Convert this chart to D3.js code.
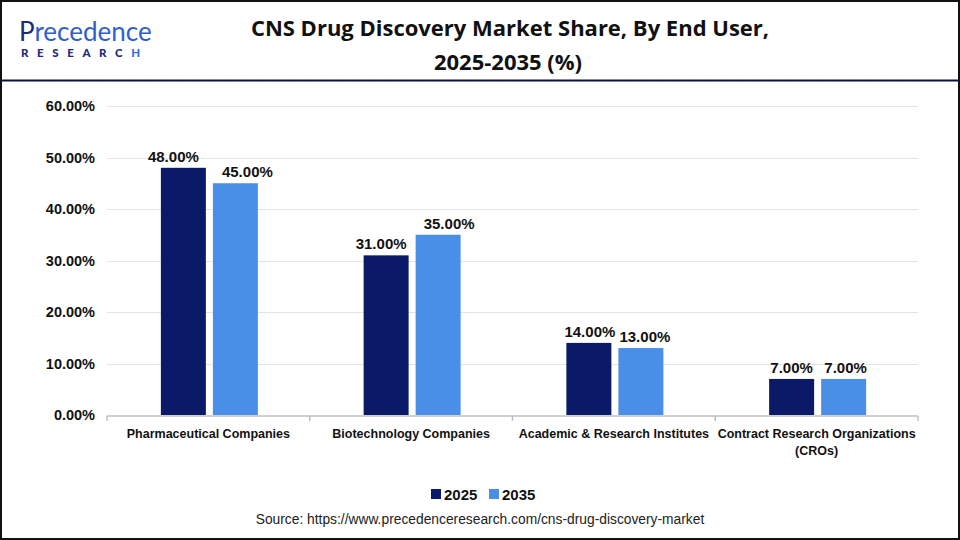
<!DOCTYPE html>
<html>
<head>
<meta charset="utf-8">
<script src="https://cdn.jsdelivr.net/npm/d3@7"></script>
<style>
    body { margin: 0; background: #fff; }
    svg { display: block; font-family: "Liberation Sans", Arial, sans-serif; }
</style>
</head>
<body>
<div id="chart"></div>
<script>
// Chart data
const categories = ["Pharmaceutical Companies", "Biotechnology Companies", "Academic & Research Institutes", "Contract Research Organizations (CROs)"];
const years = ["2025", "2035"];
const values2025 = [48, 31, 14, 7];
const values2035 = [45, 35, 13, 7];
const yTicks = [0, 10, 20, 30, 40, 50, 60];
const colors = ["#0b1a68", "#4a8fe7"];

const width = 960, height = 540;
const margin = { top: 106, right: 42, bottom: 125, left: 107 };

// small horizontal nudges of the value labels, as in the original layout
const labelNudge = [[-10, 12], [-5, 11], [1, 4], [0, 2]];

const svg = d3.select("#chart").append("svg")
    .attr("width", width)
    .attr("height", height);

// Frame and header line
svg.append("rect")
    .attr("x", 1).attr("y", 1)
    .attr("width", width - 2).attr("height", height - 2)
    .attr("fill", "none").attr("stroke", "#111").attr("stroke-width", 2);
svg.append("line")
    .attr("x1", 1).attr("x2", width - 1)
    .attr("y1", 80.5).attr("y2", 80.5)
    .attr("stroke", "#0b1240").attr("stroke-width", 2);

// Logo (text approximation)
const logo = svg.append("g");
logo.append("text")
    .attr("x", 19).attr("y", 41)
    .attr("font-family", "Lato, sans-serif")
    .attr("font-size", 26)
    .attr("fill", "#1b2a7a")
    .text("P")
    .append("tspan").attr("fill", "#2f5fcf").text("recedence");
logo.append("text")
    .attr("x", 21).attr("y", 57)
    .attr("font-family", "Lato, sans-serif")
    .attr("font-size", 11.5).attr("font-weight", "900")
    .attr("letter-spacing", 8.6)
    .attr("fill", "#1b2a7a")
    .text("RESEARC")
    .append("tspan").attr("fill", "#3a6fd8").text("H");

// Title
const title = svg.append("text")
    .attr("text-anchor", "middle")
    .attr("font-family", "'Open Sans', sans-serif")
    .attr("font-weight", "bold").attr("font-size", 22)
    .attr("fill", "#111");
title.append("tspan").attr("x", 510).attr("y", 36).text("CNS Drug Discovery Market Share, By End User,");
title.append("tspan").attr("x", 508).attr("y", 70).text("2025-2035 (%)");

// Scales
const x0 = d3.scaleBand()
    .domain(categories)
    .range([margin.left, width - margin.right])
    .paddingInner(0).paddingOuter(0);

const x1 = d3.scaleBand()
    .domain(years)
    .range([0, 97])
    .paddingInner(0.135);

const y = d3.scaleLinear()
    .domain([0, 60])
    .range([height - margin.bottom, margin.top]);

// Gridlines
svg.append("g")
    .selectAll("line")
    .data(yTicks.slice(1))
    .join("line")
    .attr("x1", margin.left).attr("x2", width - margin.right)
    .attr("y1", d => Math.round(y(d)) + 0.5).attr("y2", d => Math.round(y(d)) + 0.5)
    .attr("stroke", "#e4e4e4");

// Y axis labels
svg.append("g")
    .selectAll("text")
    .data(yTicks)
    .join("text")
    .attr("x", 95)
    .attr("y", d => y(d) + 5)
    .attr("text-anchor", "end")
    .attr("font-weight", "bold").attr("font-size", 14.5)
    .attr("fill", "#111")
    .text(d => d.toFixed(2) + "%");

// Bars
const groups = svg.append("g")
    .selectAll("g")
    .data(categories.map((c, i) => ({ cat: c, i, vals: [values2025[i], values2035[i]] })))
    .join("g")
    .attr("transform", d => `translate(${x0(d.cat) + (x0.bandwidth() - 97) / 2 + 1},0)`);

groups.selectAll("rect")
    .data(d => d.vals.map((v, j) => ({ year: years[j], v, j, i: d.i })))
    .join("rect")
    .attr("x", d => x1(d.year))
    .attr("y", d => y(d.v))
    .attr("width", x1.bandwidth())
    .attr("height", d => y(0) - y(d.v))
    .attr("fill", d => colors[d.j]);

groups.selectAll("text")
    .data(d => d.vals.map((v, j) => ({ year: years[j], v, j, i: d.i })))
    .join("text")
    .attr("x", d => x1(d.year) + x1.bandwidth() / 2 + labelNudge[d.i][d.j])
    .attr("y", d => y(d.v) - 6)
    .attr("text-anchor", "middle")
    .attr("font-weight", "bold").attr("font-size", 15)
    .attr("fill", "#111")
    .text(d => d.v.toFixed(2) + "%");

// X axis
const xAxis = svg.append("g");
xAxis.append("line")
    .attr("x1", margin.left).attr("x2", width - margin.right)
    .attr("y1", y(0) + 1).attr("y2", y(0) + 1)
    .attr("stroke", "#bfbfbf").attr("stroke-width", 1.5);
xAxis.selectAll("line.tick")
    .data(categories.concat([null]))
    .join("line")
    .attr("class", "tick")
    .attr("x1", (d, i) => margin.left + i * x0.bandwidth())
    .attr("x2", (d, i) => margin.left + i * x0.bandwidth())
    .attr("y1", y(0) + 1).attr("y2", y(0) + 6)
    .attr("stroke", "#bfbfbf").attr("stroke-width", 1.5);

const catLabels = [["Pharmaceutical Companies"], ["Biotechnology Companies"], ["Academic & Research Institutes"], ["Contract Research Organizations", "(CROs)"]];
xAxis.selectAll("text")
    .data(categories)
    .join("text")
    .attr("text-anchor", "middle")
    .attr("font-weight", "bold").attr("font-size", 12.5)
    .attr("fill", "#111")
    .each(function (d, i) {
        d3.select(this).selectAll("tspan")
            .data(catLabels[i])
            .join("tspan")
            .attr("x", x0(d) + x0.bandwidth() / 2)
            .attr("y", (t, k) => 438 + k * 17)
            .text(t => t);
    });

// Legend
const legend = svg.append("g").attr("transform", "translate(431,494)");
years.forEach((yr, i) => {
    const g = legend.append("g").attr("transform", `translate(${i * 58},0)`);
    g.append("rect").attr("x", 0).attr("y", -5).attr("width", 10).attr("height", 10).attr("fill", colors[i]);
    g.append("text").attr("x", 13).attr("y", 5.5)
        .attr("font-weight", "bold").attr("font-size", 15).attr("fill", "#111")
        .text(yr);
});

// Source
svg.append("text")
    .attr("x", 480).attr("y", 524)
    .attr("text-anchor", "middle")
    .attr("font-size", 13.8).attr("fill", "#222")
    .text("Source: https://www.precedenceresearch.com/cns-drug-discovery-market");
</script>
</body>
</html>
